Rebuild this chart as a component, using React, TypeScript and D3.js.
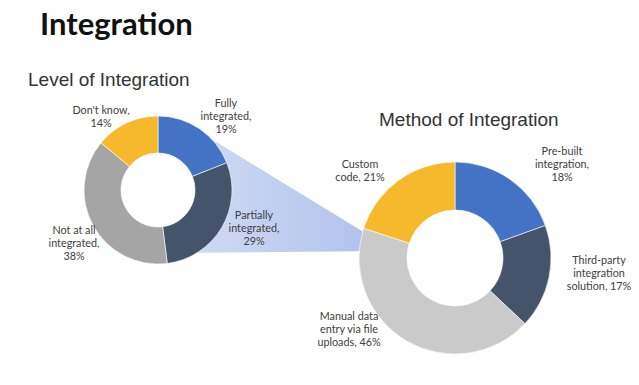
import React from "react";
import * as d3 from "d3";

// ---- data ----
const levelCategories = ["Fully integrated", "Partially integrated", "Not at all integrated", "Don't know"];
const levelValues = [19, 29, 38, 14];
const levelLabels = [["Fully", "integrated,", "19%"], ["Partially", "integrated,", "29%"], ["Not at all", "integrated,", "38%"], ["Don't know,", "14%"]];

const methodCategories = ["Pre-built integration", "Third-party integration solution", "Manual data entry via file uploads", "Custom code"];
// slice shares as drawn in the picture
const methodValues = [19.5, 17.5, 43, 20];
const methodLabels = [["Pre-built", "integration,", "18%"], ["Third-party", "integration", "solution, 17%"], ["Manual data", "entry via file", "uploads, 46%"], ["Custom", "code, 21%"]];

// ---- layout / style ----
const W = 639, H = 385;
const levelColors = ["#4472C4", "#44546A", "#A5A5A5", "#F6B92C"];
const methodColors = ["#4472C4", "#44546A", "#CACACA", "#F6B92C"];
const left = { cx: 158, cy: 190, r: 74, ri: 37 };
const right = { cx: 455, cy: 258, r: 96, ri: 48 };
const levelLabelPos = [[226, 107], [254, 219], [74, 234], [101, 114]];
const methodLabelPos = [[562, 155], [599, 264], [349, 320], [360, 168]];
const LH = 13;

function polar(c: { cx: number; cy: number; r: number }, deg: number): [number, number] {
  const a = (deg * Math.PI) / 180;
  return [c.cx + c.r * Math.sin(a), c.cy - c.r * Math.cos(a)];
}

function Donut({ c, values, colors }: { c: any; values: number[]; colors: string[] }) {
  const pie = d3.pie<number>().sort(null).value((d) => d);
  const arc = d3.arc<d3.PieArcDatum<number>>().innerRadius(c.ri).outerRadius(c.r);
  return (
    <g transform={`translate(${c.cx},${c.cy})`}>
      {pie(values).map((p, i) => (
        <path key={i} d={arc(p) || ""} fill={colors[i]} stroke="#ffffff" strokeWidth={0.6} />
      ))}
    </g>
  );
}

function Labels({ labels, pos }: { labels: string[][]; pos: number[][] }) {
  return (
    <g fontFamily="Lato, 'Open Sans', sans-serif" fontSize={10.8} fill="#404040" textAnchor="middle">
      {labels.map((lines, i) => (
        <text key={i} x={pos[i][0]} y={pos[i][1]}>
          {lines.map((l, j) => (
            <tspan key={j} x={pos[i][0]} dy={j === 0 ? 0 : LH}>
              {l}
            </tspan>
          ))}
        </text>
      ))}
    </g>
  );
}

export default function App() {
  const p1 = polar(left, 47);
  const p2 = polar(right, 286);
  const p3 = polar(right, 274);
  const p4 = polar(left, 148);
  const funnel = d3.line()([p1, p2, p3, p4]) + "Z";
  return (
    <div style={{ position: "fixed", left: 0, top: 0 }}>
      <svg width={W} height={H} viewBox={`0 0 ${W} ${H}`} style={{ display: "block", background: "#ffffff" }}>
        <defs>
          <linearGradient id="fun" x1="0" x2="1" y1="0" y2="0">
            <stop offset="0%" stopColor="#CFD9F3" />
            <stop offset="100%" stopColor="#B3C3EE" />
          </linearGradient>
        </defs>
        <text x={40} y={35} fontFamily="Lato, sans-serif" fontWeight={700} fontSize={31} fill="#111111">
          Integration
        </text>
        <text x={28} y={86} fontFamily="'Liberation Sans', Arial, sans-serif" fontSize={19} fill="#333333">
          Level of Integration
        </text>
        <text x={379} y={126} fontFamily="'Liberation Sans', Arial, sans-serif" fontSize={19} fill="#333333">
          Method of Integration
        </text>
        <path d={funnel} fill="url(#fun)" />
        <Donut c={left} values={levelValues} colors={levelColors} />
        <Donut c={right} values={methodValues} colors={methodColors} />
        <Labels labels={levelLabels} pos={levelLabelPos} />
        <Labels labels={methodLabels} pos={methodLabelPos} />
      </svg>
    </div>
  );
}
